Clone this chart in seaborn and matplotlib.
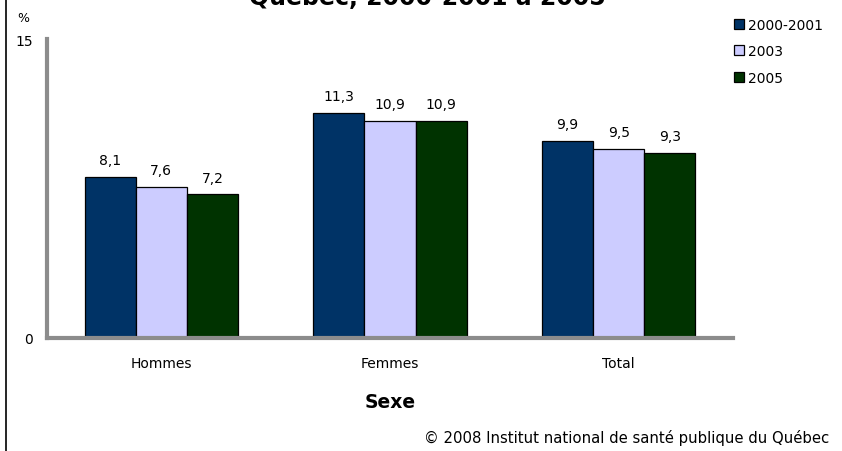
import matplotlib
matplotlib.use("Agg")
import matplotlib.pyplot as plt
from matplotlib.lines import Line2D
from matplotlib.patches import Patch
import seaborn as sns
import pandas as pd

# Data
categories = ["Hommes", "Femmes", "Total"]
periods = ["2000-2001", "2003", "2005"]
values_2000_2001 = [8.1, 11.3, 9.9]
values_2003 = [7.6, 10.9, 9.5]
values_2005 = [7.2, 10.9, 9.3]
colors = ["#003366", "#CCCCFF", "#003300"]

rows = []
for period, vals in zip(periods, [values_2000_2001, values_2003, values_2005]):
    for cat, v in zip(categories, vals):
        rows.append({"Sexe": cat, "Période": period, "Valeur": v})
df = pd.DataFrame(rows)

sns.set_theme(style="white")
plt.rcParams["font.family"] = ["DejaVu Sans"]
plt.rcParams["text.color"] = "black"
plt.rcParams["xtick.color"] = "black"
plt.rcParams["ytick.color"] = "black"
plt.rcParams["axes.labelcolor"] = "black"

FS = 10

W, H = 842, 452
fig = plt.figure(figsize=(W / 100, H / 100), dpi=100)
ax = fig.add_axes([47 / W, (H - 339) / H, (733 - 47) / W, (339 - 40) / H])

sns.barplot(data=df, x="Sexe", y="Valeur", hue="Période", order=categories,
            hue_order=periods, palette=colors, width=0.67, edgecolor="black",
            linewidth=0.9, saturation=1, legend=False, ax=ax)

ax.set_xlim(-0.5, 2.5)
ax.set_ylim(0, 15)
ax.set_yticks([0, 15])
ax.set_yticklabels(["0", "15"], fontsize=FS)
ax.tick_params(axis="y", length=0, pad=10)
ax.tick_params(axis="x", length=0, pad=13, labelsize=FS)
ax.set_xlabel("Sexe", fontsize=13.5, fontweight="bold", labelpad=16)
ax.set_ylabel("")

for side in ["top", "right"]:
    ax.spines[side].set_visible(False)
for side in ["left", "bottom"]:
    ax.spines[side].set_color("#8c8c8c")
    ax.spines[side].set_linewidth(3)

# Value labels above the bars
for container in ax.containers:
    ax.bar_label(container, labels=[f"{v:.1f}".replace(".", ",") for v in container.datavalues],
                 padding=7, fontsize=FS)

# Legend
handles = [Patch(facecolor=c, edgecolor="black", linewidth=0.9, label=p)
           for c, p in zip(colors, periods)]
fig.legend(handles=handles, loc="upper left", bbox_to_anchor=(721 / W, 1 - 6 / H),
           frameon=False, fontsize=FS, handlelength=0.75, handleheight=0.75,
           handletextpad=0.3, labelspacing=0.9)

# Title (upper part falls outside the canvas), unit label, credit
fig.text(427 / W, 1 - 5 / H, "Québec, 2000-2001 à 2005", ha="center", va="baseline",
         fontsize=17, fontweight="bold")
fig.text(23 / W, 1 - 19 / H, "%", ha="center", va="center", fontsize=9)
fig.text(829 / W, 1 - 438 / H, "© 2008 Institut national de santé publique du Québec",
         ha="right", va="center", fontsize=10.7)

# Left frame edge
fig.add_artist(Line2D([6 / W, 6 / W], [0, 1], color="black", linewidth=1.2,
                      transform=fig.transFigure))

fig.savefig("out.png", dpi=100)
